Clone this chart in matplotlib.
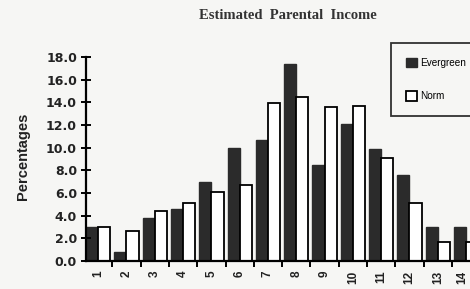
import numpy as np
import matplotlib
matplotlib.use("Agg")
import matplotlib.pyplot as plt
from matplotlib.transforms import ScaledTranslation

# Datos
categorias = [str(i) for i in range(1, 15)]
evergreen = [3.0, 0.8, 3.8, 4.6, 7.0, 10.0, 10.7, 17.4, 8.5, 12.1, 9.9, 7.6, 3.0, 3.0]
norm = [3.0, 2.6, 4.4, 5.1, 6.1, 6.7, 13.9, 14.5, 13.6, 13.7, 9.1, 5.1, 1.7, 1.7]
yticks = np.arange(0, 18.1, 2.0)

fondo = "#f6f6f4"
oscuro = "#2b2b2b"

fig = plt.figure(figsize=(4.7, 2.89), dpi=100, facecolor=fondo)
# el eje continua fuera de la imagen (escaneo recortado a la derecha)
ax = fig.add_axes([0.183, 0.097, 0.87, 0.706])
ax.set_facecolor(fondo)

x = np.arange(1, 15)
w = 0.43
ax.bar(x - w / 2, evergreen, w, color=oscuro, edgecolor=oscuro, linewidth=1.0, label="Evergreen")
ax.bar(x + w / 2, norm, w, color="white", edgecolor="black", linewidth=1.3, label="Norm")

ax.set_xlim(0.57, 0.57 + 0.87 * 470 / 28.3)
ax.set_ylim(0, 18)

for s in ["top", "right"]:
    ax.spines[s].set_visible(False)
for s in ["left", "bottom"]:
    ax.spines[s].set_linewidth(1.6)

# marcas entre categorias, etiquetas centradas
ax.set_xticks(x + 0.5)
ax.set_xticklabels([])
ax.set_xticks(x, minor=True)
ax.set_xticklabels(categorias, minor=True, rotation=90, fontsize=8.5,
                   fontweight="bold", family="Liberation Sans", color="#222222")
ax.tick_params(axis="x", which="major", direction="out", length=4, width=1.4)
ax.tick_params(axis="x", which="minor", length=0, pad=7)
# la ultima etiqueta queda en el borde; se corre un poco
ultima = ax.get_xticklabels(minor=True)[-1]
ultima.set_transform(ultima.get_transform() + ScaledTranslation(-3 / 72, 0, fig.dpi_scale_trans))

ax.set_yticks(yticks)
ax.set_yticklabels([f"{v:.1f}" for v in yticks], fontsize=9, fontweight="bold",
                   family="DejaVu Sans", color="#222222")
ax.tick_params(axis="y", direction="inout", length=7, width=1.4, pad=3)

ax.set_ylabel("Percentages", fontsize=10.5, fontweight="bold",
              family="Liberation Sans", color="#222222")
ax.yaxis.set_label_coords(-0.137, 0.515)

fig.text(0.613, 0.945, "Estimated  Parental  Income", ha="center", va="center",
         fontsize=10.5, fontweight="bold", family="Liberation Serif", color="#333333")

leg = ax.legend(loc="upper left", bbox_to_anchor=(0.832, 0.851),
                bbox_transform=fig.transFigure, frameon=True,
                fancybox=False, edgecolor="black", facecolor=fondo,
                prop={"family": "Liberation Sans", "size": 7.2},
                handlelength=1.15, handleheight=1.15, handletextpad=0.3,
                labelspacing=2.3, borderpad=1.45, borderaxespad=0)
leg.get_frame().set_linewidth(1.3)

plt.savefig("out.png", dpi=100, facecolor=fondo)
